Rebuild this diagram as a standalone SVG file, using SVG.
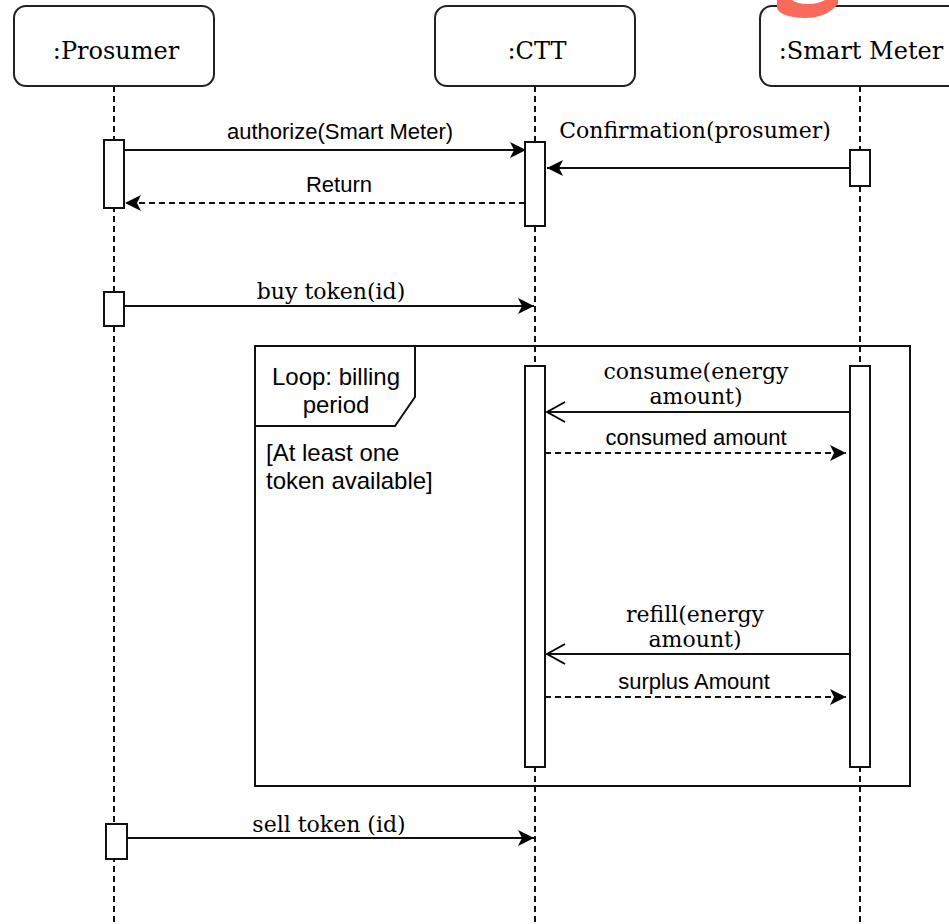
<svg xmlns="http://www.w3.org/2000/svg" width="949" height="924" viewBox="0 0 949 924">
<style>
.head{fill:#fff;stroke:#222;stroke-width:2}
.life{stroke:#111;stroke-width:2;stroke-dasharray:6 4;fill:none}
.act{fill:#fff;stroke:#111;stroke-width:2}
.msg{stroke:#111;stroke-width:2;fill:none}
.dash{stroke:#111;stroke-width:2;fill:none;stroke-dasharray:6 4}
.serif{font-family:"DejaVu Serif",serif;fill:#000}
.sans{font-family:"Liberation Sans",Arial,sans-serif;fill:#000}
</style>
<defs>
<marker id="block" viewBox="0 0 16 16" markerWidth="16" markerHeight="16" refX="16" refY="8" orient="auto" markerUnits="userSpaceOnUse">
<path d="M0,0 L16,8 L0,16 L4,8 Z" fill="#000"/>
</marker>
<marker id="open" viewBox="0 0 20 22" markerWidth="20" markerHeight="22" refX="19" refY="11" orient="auto" markerUnits="userSpaceOnUse">
<path d="M1,1 L19,11 L1,21" fill="none" stroke="#000" stroke-width="2"/>
</marker>
</defs>
<rect width="949" height="924" fill="#fff"/>

<g id="lifelines">
<line class="life" x1="114" y1="86" x2="114" y2="924"/>
<line class="life" x1="535" y1="86" x2="535" y2="924"/>
<line class="life" x1="860" y1="86" x2="860" y2="924"/>
</g>

<g id="prosumer">
<rect class="head" x="14" y="6" width="200" height="80" rx="12"/>
<text class="serif" x="116" y="59" font-size="24" text-anchor="middle">:Prosumer</text>
</g>
<g id="ctt">
<rect class="head" x="435" y="6" width="200" height="80" rx="12"/>
<text class="serif" x="537" y="59" font-size="24" text-anchor="middle">:CTT</text>
</g>
<g id="smartmeter">
<rect class="head" x="760" y="6" width="200" height="80" rx="12"/>
<text class="serif" x="861" y="59" font-size="24" text-anchor="middle">:Smart Meter</text>
</g>

<g id="loop">
<rect x="255" y="346" width="655" height="440" fill="none" stroke="#111" stroke-width="2"/>
<path d="M255,346 H415 V397 L395,426 H255 Z" fill="#fff" stroke="#111" stroke-width="2"/>
<text class="sans" x="336" y="385" font-size="24" text-anchor="middle">Loop: billing</text>
<text class="sans" x="336" y="413" font-size="24" text-anchor="middle">period</text>
<text class="sans" x="266" y="461" font-size="24">[At least one</text>
<text class="sans" x="266" y="489" font-size="24">token available]</text>
</g>

<g id="activations">
<rect class="act" x="104" y="140" width="20" height="68"/>
<rect class="act" x="525" y="142" width="20" height="84"/>
<rect class="act" x="850" y="150" width="20" height="36"/>
<rect class="act" x="104" y="292" width="20" height="34"/>
<rect class="act" x="525" y="366" width="20" height="401"/>
<rect class="act" x="850" y="366" width="20" height="401"/>
<rect class="act" x="106" y="824" width="21" height="35"/>
</g>

<g id="connectors">
<line class="msg" x1="124" y1="150" x2="526" y2="150" marker-end="url(#block)"/>
<text class="sans" x="340" y="139" font-size="22" text-anchor="middle">authorize(Smart Meter)</text>
<line class="msg" x1="850" y1="168" x2="547" y2="168" marker-end="url(#block)"/>
<text class="serif" x="695" y="138" font-size="22" text-anchor="middle">Confirmation(prosumer)</text>
<line class="dash" x1="525" y1="203" x2="125" y2="203" marker-end="url(#block)"/>
<text class="sans" x="339" y="192" font-size="22" text-anchor="middle">Return</text>
<line class="msg" x1="124" y1="306" x2="534" y2="306" marker-end="url(#block)"/>
<text class="serif" x="331" y="299" font-size="22" text-anchor="middle">buy token(id)</text>
<line class="msg" x1="849" y1="412" x2="547" y2="412" marker-end="url(#open)"/>
<text class="serif" x="696" y="379" font-size="22" text-anchor="middle">consume(energy</text>
<text class="serif" x="696" y="404" font-size="22" text-anchor="middle">amount)</text>
<line class="dash" x1="545" y1="453" x2="846" y2="453" marker-end="url(#block)"/>
<text class="sans" x="696" y="445" font-size="22" text-anchor="middle">consumed amount</text>
<line class="msg" x1="849" y1="654" x2="547" y2="654" marker-end="url(#open)"/>
<text class="serif" x="695" y="622" font-size="22" text-anchor="middle">refill(energy</text>
<text class="serif" x="695" y="647" font-size="22" text-anchor="middle">amount)</text>
<line class="dash" x1="545" y1="697" x2="846" y2="697" marker-end="url(#block)"/>
<text class="sans" x="694" y="689" font-size="22" text-anchor="middle">surplus Amount</text>
<line class="msg" x1="127" y1="838" x2="534" y2="838" marker-end="url(#block)"/>
<text class="serif" x="329" y="832" font-size="22" text-anchor="middle">sell token (id)</text>
</g>

<path d="M777,0 L777,8 Q780,17 805,18 Q826,18 838,4 L838,0 L825,0 Q818,4 808,4 Q797,4 792,0 Z" fill="#FA6A5A"/>
</svg>
